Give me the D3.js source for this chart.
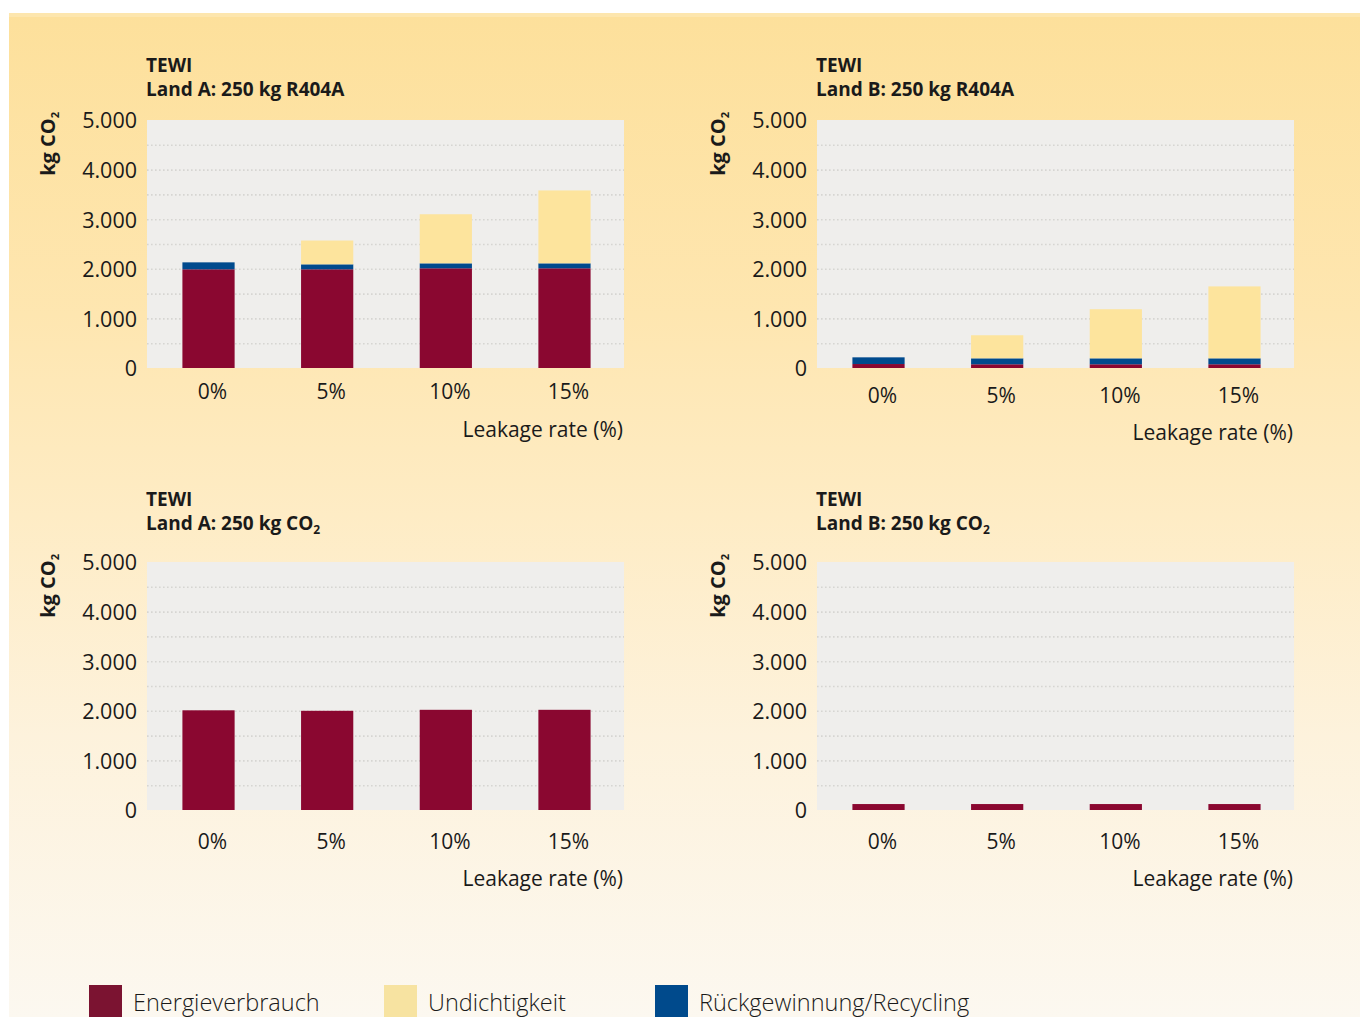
<!DOCTYPE html>
<html>
<head>
<meta charset="utf-8">
<script src="https://cdn.jsdelivr.net/npm/d3@7"></script>
<style>
  html, body { margin: 0; padding: 0; background: #ffffff; }
  svg { display: block; }
  text { font-family: "Open Sans", "Noto Sans", sans-serif; fill: #1a1a1a; }
</style>
</head>
<body>
<svg id="chart" width="1360" height="1017"></svg>
<script>
// Leakage-rate categories shared by all four panels
const categories = ["0%", "5%", "10%", "15%"];

// Y axis ticks (kg CO2) and the dotted gridlines in between
const yTicks = [0, 1000, 2000, 3000, 4000, 5000];
const gridTicks = [500, 1000, 1500, 2000, 2500, 3000, 3500, 4000, 4500];

// Land A, 250 kg R404A
const landA_R404A_energy    = [1990, 1990, 2010, 2010];
const landA_R404A_recycling = [140, 100, 100, 100];
const landA_R404A_leakage   = [0, 480, 990, 1470];

// Land B, 250 kg R404A
const landB_R404A_energy    = [80, 75, 75, 75];
const landB_R404A_recycling = [135, 120, 120, 120];
const landB_R404A_leakage   = [0, 465, 990, 1450];

// Land A, 250 kg CO2
const landA_CO2_energy    = [2010, 2000, 2020, 2020];
const landA_CO2_recycling = [0, 0, 0, 0];
const landA_CO2_leakage   = [0, 0, 0, 0];

// Land B, 250 kg CO2
const landB_CO2_energy    = [120, 120, 120, 120];
const landB_CO2_recycling = [0, 0, 0, 0];
const landB_CO2_leakage   = [0, 0, 0, 0];

// Legend labels
const seriesKeys   = ["energy", "leakage", "recycling"];
const seriesLabels = ["Energieverbrauch", "Undichtigkeit", "Rückgewinnung/Recycling"];

const colors = { energy: "#8a0730", recycling: "#004a8d", leakage: "#fde49d" };
const legendColors = { energy: "#7b1331", recycling: "#004a8c", leakage: "#f7e3a1" };

const panels = [
  { land: "Land A", gas: "R404A", energy: landA_R404A_energy, recycling: landA_R404A_recycling, leakage: landA_R404A_leakage,
    px: 147, py: 120, titleY: 72, xLabY: 392, xTitleY: 430 },
  { land: "Land B", gas: "R404A", energy: landB_R404A_energy, recycling: landB_R404A_recycling, leakage: landB_R404A_leakage,
    px: 817, py: 120, titleY: 72, xLabY: 396, xTitleY: 433 },
  { land: "Land A", gas: "CO2", energy: landA_CO2_energy, recycling: landA_CO2_recycling, leakage: landA_CO2_leakage,
    px: 147, py: 562, titleY: 505.5, xLabY: 842, xTitleY: 879 },
  { land: "Land B", gas: "CO2", energy: landB_CO2_energy, recycling: landB_CO2_recycling, leakage: landB_CO2_leakage,
    px: 817, py: 562, titleY: 505.5, xLabY: 842, xTitleY: 879 }
];

const plotW = 477, plotH = 248;

const svg = d3.select("#chart");

// Page background: warm vertical gradient
const defs = svg.append("defs");
const grad = defs.append("linearGradient").attr("id", "bg").attr("x1", 0).attr("y1", 0).attr("x2", 0).attr("y2", 1);
[[0, "#fde09b"], [0.3, "#fee6b0"], [0.5, "#feecc5"], [0.72, "#fdf2dc"], [1, "#fcf8f0"]]
  .forEach(([o, c]) => grad.append("stop").attr("offset", o).attr("stop-color", c));

svg.append("rect").attr("x", 9).attr("y", 13).attr("width", 1351).attr("height", 1004).attr("fill", "url(#bg)");
svg.append("rect").attr("x", 9).attr("y", 13).attr("width", 1351).attr("height", 4).attr("fill", "#fde6ae");

const de = d3.formatLocale({ decimal: ",", thousands: ".", grouping: [3], currency: ["", ""] });
const fmt = de.format(",");

const stack = d3.stack().keys(["energy", "recycling", "leakage"]);

panels.forEach(p => {
  const g = svg.append("g").attr("transform", `translate(${p.px},${p.py})`);

  const x = d3.scaleBand().domain(categories).range([0, plotW]).paddingInner(0.56).paddingOuter(0.29);
  const y = d3.scaleLinear().domain([0, 5000]).range([plotH, 0]);

  // plot area
  g.append("rect").attr("width", plotW).attr("height", plotH).attr("fill", "#efeeec");

  // dotted gridlines
  const grid = g.append("g").call(d3.axisLeft(y).tickValues(gridTicks).tickSize(-plotW).tickFormat(""));
  grid.select(".domain").remove();
  grid.selectAll("line").attr("stroke", "#d6d5d2").attr("stroke-width", 1.6).attr("stroke-dasharray", "1.6,2.4");

  // stacked bars
  const rows = categories.map((c, i) => ({ cat: c, energy: p.energy[i], recycling: p.recycling[i], leakage: p.leakage[i] }));
  const layers = stack(rows);
  g.selectAll("g.layer").data(layers).join("g").attr("class", "layer")
    .attr("fill", d => colors[d.key])
    .selectAll("rect").data(d => d).join("rect")
      .attr("x", d => x(d.data.cat) + 1)
      .attr("width", x.bandwidth())
      .attr("y", d => y(d[1]))
      .attr("height", d => Math.max(0, y(d[0]) - y(d[1])));

  // y axis labels
  const ya = g.append("g").attr("transform", "translate(-10,1)")
    .call(d3.axisLeft(y).tickValues(yTicks).tickSize(0).tickPadding(0).tickFormat(fmt));
  ya.select(".domain").remove();
  ya.selectAll("text").attr("font-size", 21.5).attr("fill", "#1a1a1a").attr("font-family", '"Open Sans", sans-serif');

  // x axis labels
  const xa = svg.append("g").attr("transform", `translate(${p.px + 5},${p.xLabY})`)
    .call(d3.axisBottom(x).tickSize(0).tickPadding(0));
  xa.select(".domain").remove();
  xa.selectAll("text").attr("font-size", 21).attr("fill", "#1a1a1a").attr("dy", "0.35em")
    .attr("font-family", '"Open Sans", sans-serif');

  // x axis title
  svg.append("text").attr("x", p.px + plotW - 1).attr("y", p.xTitleY).attr("dy", "0.35em")
    .attr("text-anchor", "end").attr("font-size", 21).text("Leakage rate (%)");

  // y axis title: kg CO2, rotated
  const yt = svg.append("text")
    .attr("transform", `translate(${p.px - 92},${p.py - 8}) rotate(-90)`)
    .attr("text-anchor", "end").attr("font-size", 20).attr("font-weight", 700);
  yt.append("tspan").text("kg CO");
  yt.append("tspan").attr("font-size", 11).attr("dy", 4).text("2");

  // panel title
  const tx = p.px - 1;
  svg.append("text").attr("x", tx).attr("y", p.titleY).attr("font-size", 19).attr("font-weight", 700).text("TEWI");
  const t2 = svg.append("text").attr("x", tx).attr("y", p.titleY + 24).attr("font-size", 19).attr("font-weight", 700);
  if (p.gas === "CO2") {
    t2.append("tspan").text(`${p.land}: 250 kg CO`);
    t2.append("tspan").attr("font-size", 12).attr("dy", 4).text("2");
  } else {
    t2.text(`${p.land}: 250 kg ${p.gas}`);
  }
});

// legend
const legendX = [89, 384, 655];
const lg = svg.append("g");
seriesKeys.forEach((k, i) => {
  lg.append("rect").attr("x", legendX[i]).attr("y", 985).attr("width", 33).attr("height", 40).attr("fill", legendColors[k]);
  lg.append("text").attr("x", legendX[i] + 44).attr("y", 1003).attr("dy", "0.35em")
    .attr("font-size", 23.5).attr("font-weight", 300).attr("fill", "#333333").text(seriesLabels[i]);
});
</script>
</body>
</html>
